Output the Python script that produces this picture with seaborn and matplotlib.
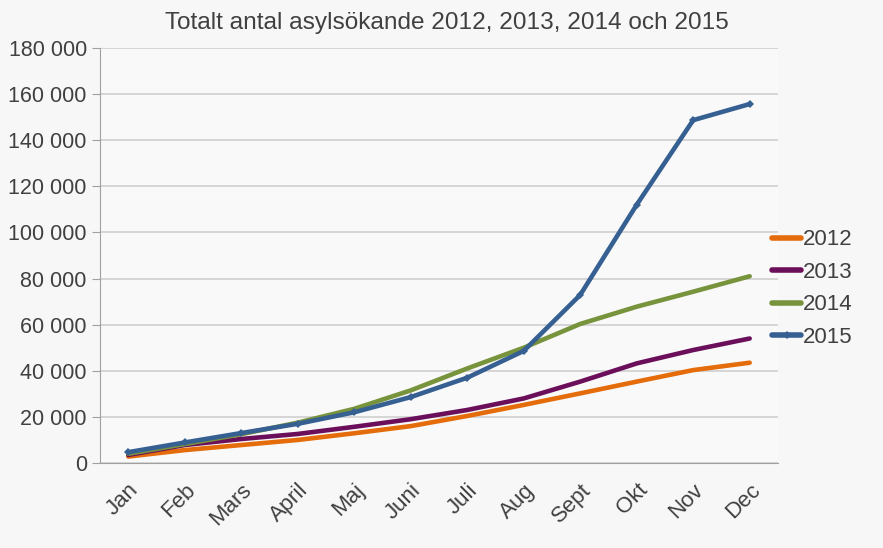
import pandas as pd
import numpy as np
import matplotlib.pyplot as plt
import seaborn as sns
from matplotlib.ticker import FuncFormatter, FixedLocator

# Månader och kumulativt antal asylsökande per år
manader = ['Jan', 'Feb', 'Mars', 'April', 'Maj', 'Juni', 'Juli', 'Aug', 'Sept', 'Okt', 'Nov', 'Dec']
ar_2012 = [2800, 5600, 7800, 10000, 12900, 16000, 20400, 25200, 30200, 35300, 40300, 43500]
ar_2013 = [3500, 7800, 10400, 12600, 15700, 19000, 23000, 28000, 35300, 43200, 49000, 54000]
ar_2014 = [4000, 8200, 12500, 17500, 23500, 31500, 41000, 50000, 60300, 67800, 74300, 81000]
ar_2015 = [4700, 8900, 13000, 17000, 22000, 28600, 37000, 48600, 72900, 112000, 148700, 155700]

serier = {'2012': ar_2012, '2013': ar_2013, '2014': ar_2014, '2015': ar_2015}
farger = {'2012': '#E46C0A', '2013': '#6B0F5A', '2014': '#77933C', '2015': '#376092'}

df = pd.DataFrame([
    {'ar': ar, 'manad': i, 'antal': v}
    for ar, vals in serier.items() for i, v in enumerate(vals)
])

sns.set_style('white')
plt.rcParams['font.family'] = ['Liberation Sans', 'DejaVu Sans']

fig = plt.figure(figsize=(8.83, 5.48), dpi=100)
fig.patch.set_facecolor('#f7f7f7')
ax = fig.add_axes([0.1133, 0.1551, 0.7677, 0.7573])
ax.set_facecolor('#f9f9f9')

for ar in serier:
    d = df[df['ar'] == ar]
    sns.lineplot(data=d, x='manad', y='antal', ax=ax, color=farger[ar], linewidth=3.3,
                 marker='D' if ar == '2015' else None, markersize=4,
                 markeredgewidth=0, label=ar, solid_capstyle='round')

ax.set_xlim(-0.5, 11.5)
ax.set_ylim(0, 180000)
ax.set_yticks(np.arange(0, 180001, 20000))
ax.yaxis.set_major_formatter(FuncFormatter(lambda v, p: f'{v:,.0f}'.replace(',', ' ')))
ax.set_xticks(range(12))
ax.set_xticklabels(manader, rotation=45, ha='right', rotation_mode='anchor')
ax.xaxis.set_minor_locator(FixedLocator(np.arange(-0.5, 12, 1)))
ax.tick_params(axis='x', which='major', length=0, labelsize=16, colors='#404040', pad=12)
ax.tick_params(axis='x', which='minor', length=6, color='#a0a0a0', direction='out')
ax.tick_params(axis='y', length=6, labelsize=15.5, left=True, color='#a0a0a0', labelcolor='#404040')
ax.grid(axis='y', color='#d0d0d0', linewidth=1.2)
ax.set_xlabel('')
ax.set_ylabel('')
for s in ['top', 'right']:
    ax.spines[s].set_visible(False)
ax.spines['left'].set_color('#a0a0a0')
ax.spines['bottom'].set_color('#a0a0a0')

ax.set_title('Totalt antal asylsökande 2012, 2013, 2014 och 2015', fontsize=17.6, color='#404040',
             pad=14, x=0.512)

leg = ax.legend(loc='center left', bbox_to_anchor=(0.962, 0.42), frameon=False, fontsize=16,
                handlelength=1.3, handletextpad=0.1, labelspacing=0.52, labelcolor='#404040')
for h in leg.get_lines():
    h.set_linewidth(4)

plt.savefig('out.png', dpi=100, facecolor=fig.get_facecolor())
